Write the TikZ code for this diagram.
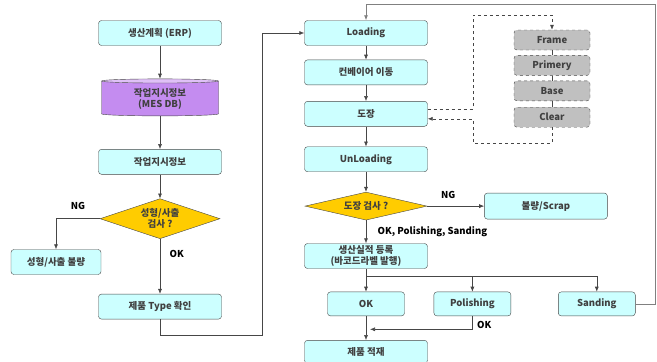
\documentclass[tikz,border=0pt]{standalone}
\usepackage{fontspec}
\setmainfont{Noto Sans CJK KR}
\usetikzlibrary{positioning,shapes.geometric,arrows.meta,calc}
\definecolor{boxcyan}{RGB}{204,255,255}
\definecolor{dbpurple}{RGB}{196,140,240}
\definecolor{chkgold}{RGB}{255,204,0}
\definecolor{layergray}{RGB}{192,192,192}
\definecolor{edgegray}{RGB}{70,70,70}

\begin{document}
\begin{tikzpicture}[x=1pt, y=-1pt, >={Latex[length=5pt,width=4pt]},
    font=\fontsize{9.5}{11}\selectfont\bfseries,
    proc/.style = {draw=edgegray, fill=boxcyan, rounded corners=3pt, minimum width=123pt, minimum height=25pt, inner sep=1pt, align=center, text=black!75},
    small/.style = {proc, minimum width=77pt, minimum height=24pt},
    check/.style = {draw=edgegray, fill=chkgold, diamond, aspect=3, inner sep=0pt, align=center, text=black!75},
    store/.style = {draw=edgegray, cylinder, shape border rotate=90, aspect=0.07, minimum width=117pt, minimum height=37pt, align=center, cylinder uses custom fill, cylinder body fill=dbpurple, cylinder end fill=dbpurple!55, text=black!75},
    layer/.style = {draw=edgegray, dashed, fill=layergray, rounded corners=3pt, minimum width=76pt, minimum height=20pt, inner sep=1pt, text=black!75},
    flow/.style = {draw=edgegray, semithick},
    loopline/.style = {draw=edgegray, dashed, semithick}]

    \useasboundingbox (0,0) rectangle (657,362);

    % left column
    \node[proc] (erp) at (160,33) {생산계획 (ERP)};
    \node[store] (db) [below=33pt of erp] {작업지시정보\\(MES DB)};
    \node[proc] (info) [below=33pt of db] {작업지시정보};
    \node[check, minimum width=120pt, minimum height=40pt] (chk1) [below=24pt of info] {성형/사출\\검사 ?};
    \node[proc, minimum width=90pt] (bad1) at (56,262) {성형/사출 불량};
    \node[proc] (type) [below=55pt of chk1] {제품 Type 확인};

    % right column
    \node[proc] (load) at (366,33) {Loading};
    \node[proc] (conv) [below=14pt of load] {컨베이어 이동};
    \node[proc] (paint) [below=16pt of conv] {도장};
    \node[proc] (unload) [below=20pt of paint] {UnLoading};
    \node[check, minimum width=122pt, minimum height=28pt] (chk2) [below=20pt of unload] {도장 검사 ?};
    \node[proc, minimum height=26pt] (scrap) [right=57pt of chk2] {불량/Scrap};
    \node[proc] (reg) [below=23pt of chk2] {생산실적 등록\\(바코드라벨 발행)};
    \node[small] (ok) [below=23pt of reg] {OK};
    \node[small] (pol) [right=29pt of ok] {Polishing};
    \node[small] (sand) [right=47pt of pol] {Sanding};
    \node[proc, minimum height=23pt] (stack) [below=24pt of ok] {제품 적재};

    % paint layers
    \node[layer] (frame) at (552,40) {Frame};
    \node[layer] (primer) [below=5pt of frame] {Primery};
    \node[layer] (base) [below=5pt of primer] {Base};
    \node[layer] (clear) [below=6pt of base] {Clear};

    \draw[flow, ->] (erp) -- (db);
    \draw[flow, ->] (db) -- (info);
    \draw[flow, ->] (info) -- (chk1);
    \draw[flow, ->] (chk1) -- node[pos=0.28, right=6pt] {OK} (type);
    \draw[flow, ->] (chk1.west) -| node[pos=0.25, above=5pt] {NG} (bad1.north);
    \draw[flow, ->] (type.south) -- ++(0,16) -| ([xshift=-42pt]load.west) -- (load.west);

    \draw[flow, ->] (load) -- (conv);
    \draw[flow, ->] (conv) -- (paint);
    \draw[flow, ->] (paint) -- (unload);
    \draw[flow, ->] (unload) -- (chk2);
    \draw[flow, ->] (chk2.east) -- node[pos=0.37, above=4pt] {NG} (scrap.west);
    \draw[flow, ->] (chk2.south) -- node[midway, right=8pt] {OK, Polishing, Sanding} (reg.north);

    \coordinate (split) at ($(reg.south)+(0,8)$);
    \draw[flow, ->] (reg.south) -- (ok.north);
    \draw[flow, ->] (split) -| (sand.north);
    \draw[flow, ->] (split -| pol.north) -- (pol.north);
    \draw[flow, ->] (ok) -- (stack);
    \coordinate (join) at ($(ok.south)!0.55!(stack.north)$);
    \draw[flow, ->] (pol.south) |- node[pos=0.35, right=1pt] {OK} ([xshift=4pt]join);
    \draw[draw=gray, thick, ->] (sand.east) -- ++(20,0) |- ([yshift=16pt]load.north) -- (load.north);

    \draw[flow] (frame) -- (primer);
    \draw[flow] (primer) -- (base);
    \draw[flow] (base) -- (clear);
    \draw[loopline, ->] ([yshift=5pt]paint.east) -| (473,15) -| (frame.north);
    \draw[loopline, ->] (clear.south) |- (473,143) |- ([yshift=-5pt]paint.east);
\end{tikzpicture}
\end{document}
